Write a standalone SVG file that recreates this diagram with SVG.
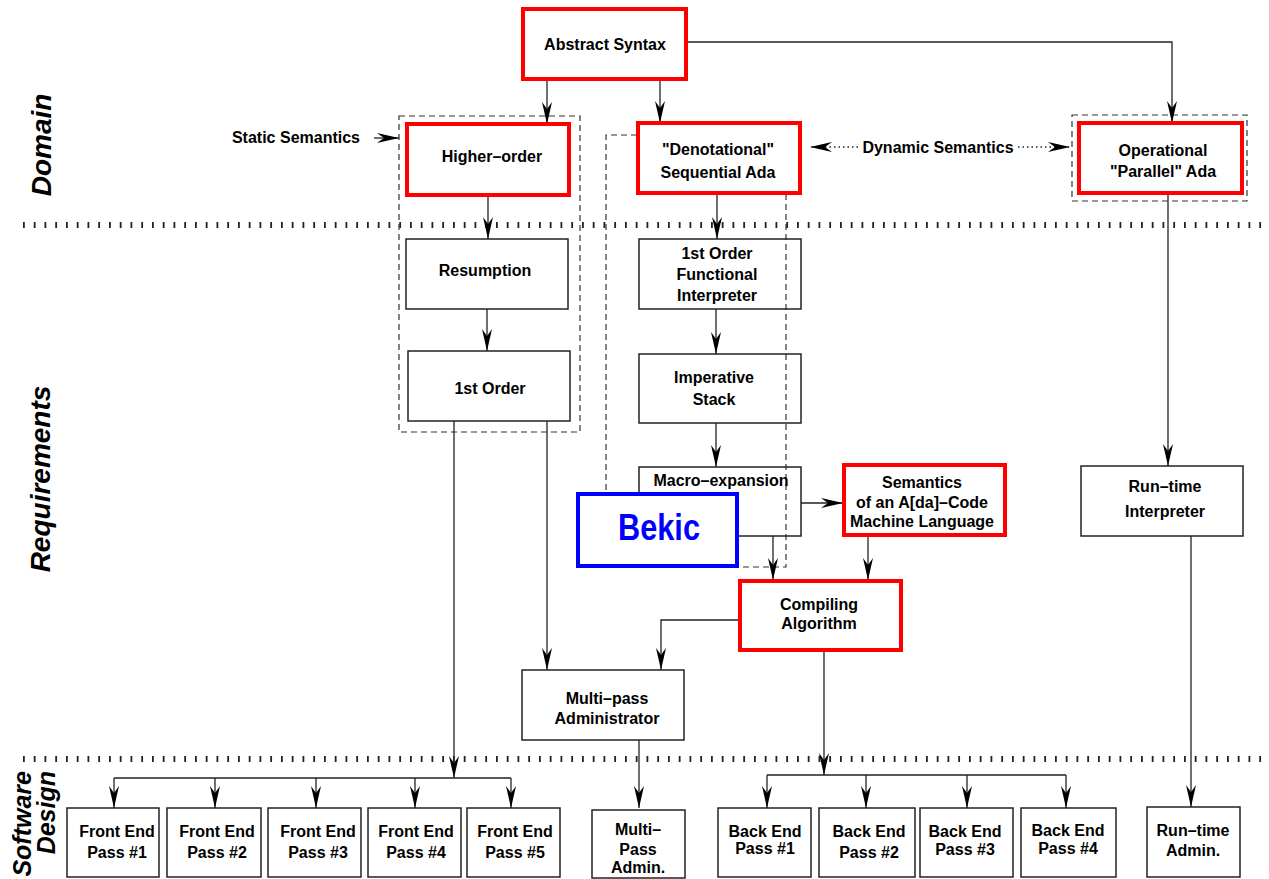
<svg xmlns="http://www.w3.org/2000/svg" width="1269" height="879" viewBox="0 0 1269 879">
<style>
.t{font-family:"Liberation Sans",Arial,sans-serif;font-weight:bold;font-size:16px;text-anchor:middle;fill:#000}
.lbl{font-family:"Liberation Sans",Arial,sans-serif;font-weight:bold;font-style:italic;fill:#000}
.box{fill:none;stroke:#222;stroke-width:1.5}
.red{fill:#fff;stroke:#ff0000;stroke-width:4}
.blue{fill:#fff;stroke:#0000ff;stroke-width:4}
.dash{fill:none;stroke:#333;stroke-width:1.2;stroke-dasharray:6 4}
.c{fill:none;stroke:#222;stroke-width:1.3}
.ca{fill:none;stroke:#222;stroke-width:1.3;marker-end:url(#ah)}
.dot{fill:none;stroke:#222;stroke-width:1.3;stroke-dasharray:1.5 3;marker-end:url(#ah)}
.sep{fill:none;stroke:#222;stroke-width:6;stroke-dasharray:1.8 8.95}
</style>
<defs>
<marker id="ah" markerWidth="24" markerHeight="12" refX="22" refY="6" orient="auto" markerUnits="userSpaceOnUse">
<path d="M0,1 L22,6 L0,11 L7,6 Z" fill="#000"/>
</marker>
</defs>
<rect width="1269" height="879" fill="#fff"/>

<g id="separators">
<line class="sep" x1="23" y1="225" x2="1268" y2="225"/>
<line class="sep" x1="23" y1="759" x2="1268" y2="759"/>
</g>

<g id="tier-labels">
<text class="lbl" font-size="28" text-anchor="middle" transform="translate(51,145) rotate(-90)">Domain</text>
<text class="lbl" font-size="28" text-anchor="middle" transform="translate(50,479) rotate(-90)">Requirements</text>
<text class="lbl" font-size="25" text-anchor="end" transform="translate(31,771) rotate(-90)">Software</text>
<text class="lbl" font-size="25" text-anchor="end" transform="translate(55,771) rotate(-90)">Design</text>
</g>

<g id="groups">
<rect id="grp-static" class="dash" x="399" y="116" width="181" height="316"/>
<path id="grp-denot" class="dash" d="M637,135 H606 V567 H786 V135"/>
<rect id="grp-oper" class="dash" x="1072" y="115" width="175" height="86"/>
</g>

<g id="connectors">
<path class="ca" d="M547,80 V124"/>
<path class="ca" d="M660,80 V123"/>
<path class="ca" d="M687,42 H1172 V123"/>
<path class="ca" d="M374,138 H399"/>
<path class="dot" d="M858,147 H810"/>
<path class="dot" d="M1018,147 H1070"/>
<path class="ca" d="M488,195 V239"/>
<path class="ca" d="M487,309 V351"/>
<path class="ca" d="M717,193 V239"/>
<path class="ca" d="M716,309 V354"/>
<path class="ca" d="M716,423 V467"/>
<path class="ca" d="M801,503 H843"/>
<path class="ca" d="M773,536 V580"/>
<path class="ca" d="M868,536 V580"/>
<path class="ca" d="M739,620 H661 V670"/>
<path class="ca" d="M547,421 V670"/>
<path class="ca" d="M454,421 V778"/>
<path class="c" d="M114,778 H511"/>
<path class="ca" d="M114,778 V808"/>
<path class="ca" d="M215,778 V808"/>
<path class="ca" d="M316,778 V808"/>
<path class="ca" d="M415,778 V808"/>
<path class="ca" d="M511,778 V808"/>
<path class="ca" d="M639,740 V808"/>
<path class="ca" d="M824,651 V775"/>
<path class="c" d="M767,775 H1066"/>
<path class="ca" d="M767,775 V808"/>
<path class="ca" d="M866,775 V808"/>
<path class="ca" d="M967,775 V808"/>
<path class="ca" d="M1066,775 V808"/>
<path class="ca" d="M1168,193 V466"/>
<path class="ca" d="M1191,536 V807"/>
</g>

<g id="static-semantics-label">
<text class="t" style="text-anchor:end" x="360" y="143">Static Semantics</text>
</g>
<g id="dynamic-semantics-label">
<text class="t" x="938" y="153">Dynamic Semantics</text>
</g>

<g id="abstract-syntax">
<rect class="red" x="523" y="9" width="163" height="70"/>
<text class="t" x="605" y="50">Abstract Syntax</text>
</g>
<g id="higher-order">
<rect class="red" x="407" y="124" width="162" height="71"/>
<text class="t" x="492" y="162">Higher–order</text>
</g>
<g id="denotational">
<rect class="red" x="638" y="123" width="162" height="70"/>
<text class="t" x="718" y="155">"Denotational"</text>
<text class="t" x="718" y="178">Sequential Ada</text>
</g>
<g id="operational">
<rect class="red" x="1079" y="123" width="163" height="70"/>
<text class="t" x="1163" y="156">Operational</text>
<text class="t" x="1163" y="177">"Parallel" Ada</text>
</g>
<g id="resumption">
<rect class="box" x="406" y="239" width="162" height="70"/>
<text class="t" x="485" y="276">Resumption</text>
</g>
<g id="first-order">
<rect class="box" x="408" y="351" width="162" height="70"/>
<text class="t" x="490" y="394">1st Order</text>
</g>
<g id="functional-interpreter">
<rect class="box" x="639" y="239" width="162" height="70"/>
<text class="t" x="717" y="259">1st Order</text>
<text class="t" x="717" y="280">Functional</text>
<text class="t" x="717" y="301">Interpreter</text>
</g>
<g id="imperative-stack">
<rect class="box" x="639" y="354" width="162" height="69"/>
<text class="t" x="714" y="383">Imperative</text>
<text class="t" x="714" y="405">Stack</text>
</g>
<g id="macro-expansion">
<rect class="box" x="639" y="467" width="162" height="69"/>
<text class="t" x="721" y="486">Macro–expansion</text>
</g>
<g id="bekic">
<rect class="blue" x="578" y="494" width="159" height="72"/>
<text x="659" y="540" font-family="'Liberation Sans',Arial,sans-serif" font-weight="bold" font-size="37" fill="#0000ff" text-anchor="middle" textLength="82" lengthAdjust="spacingAndGlyphs">Bekic</text>
</g>
<g id="semantics-machine">
<rect class="red" x="844" y="465" width="161" height="70"/>
<text class="t" x="922" y="488">Semantics</text>
<text class="t" x="922" y="508">of an A[da]–Code</text>
<text class="t" x="922" y="527">Machine Language</text>
</g>
<g id="compiling-algorithm">
<rect class="red" x="740" y="581" width="161" height="69"/>
<text class="t" x="819" y="610">Compiling</text>
<text class="t" x="819" y="629">Algorithm</text>
</g>
<g id="multipass-administrator">
<rect class="box" x="522" y="670" width="162" height="70"/>
<text class="t" x="607" y="704">Multi–pass</text>
<text class="t" x="607" y="724">Administrator</text>
</g>
<g id="runtime-interpreter">
<rect class="box" x="1081" y="466" width="162" height="70"/>
<text class="t" x="1165" y="492">Run–time</text>
<text class="t" x="1165" y="517">Interpreter</text>
</g>

<g id="front-end-1">
<rect class="box" x="67" y="808" width="92" height="69"/>
<text class="t" x="117" y="837">Front End</text>
<text class="t" x="117" y="858">Pass #1</text>
</g>
<g id="front-end-2">
<rect class="box" x="167" y="808" width="94" height="69"/>
<text class="t" x="217" y="837">Front End</text>
<text class="t" x="217" y="858">Pass #2</text>
</g>
<g id="front-end-3">
<rect class="box" x="268" y="808" width="93" height="69"/>
<text class="t" x="318" y="837">Front End</text>
<text class="t" x="318" y="858">Pass #3</text>
</g>
<g id="front-end-4">
<rect class="box" x="368" y="808" width="93" height="69"/>
<text class="t" x="416" y="837">Front End</text>
<text class="t" x="416" y="858">Pass #4</text>
</g>
<g id="front-end-5">
<rect class="box" x="467" y="808" width="93" height="69"/>
<text class="t" x="515" y="837">Front End</text>
<text class="t" x="515" y="858">Pass #5</text>
</g>
<g id="multi-pass-admin">
<rect class="box" x="592" y="810" width="93" height="68"/>
<text class="t" x="638" y="835">Multi–</text>
<text class="t" x="638" y="855">Pass</text>
<text class="t" x="638" y="873">Admin.</text>
</g>
<g id="back-end-1">
<rect class="box" x="718" y="808" width="93" height="69"/>
<text class="t" x="765" y="837">Back End</text>
<text class="t" x="765" y="854">Pass #1</text>
</g>
<g id="back-end-2">
<rect class="box" x="819" y="808" width="96" height="69"/>
<text class="t" x="869" y="837">Back End</text>
<text class="t" x="869" y="858">Pass #2</text>
</g>
<g id="back-end-3">
<rect class="box" x="920" y="808" width="93" height="69"/>
<text class="t" x="965" y="837">Back End</text>
<text class="t" x="965" y="855">Pass #3</text>
</g>
<g id="back-end-4">
<rect class="box" x="1021" y="808" width="95" height="69"/>
<text class="t" x="1068" y="836">Back End</text>
<text class="t" x="1068" y="854">Pass #4</text>
</g>
<g id="runtime-admin">
<rect class="box" x="1147" y="807" width="93" height="70"/>
<text class="t" x="1193" y="836">Run–time</text>
<text class="t" x="1193" y="856">Admin.</text>
</g>
</svg>
